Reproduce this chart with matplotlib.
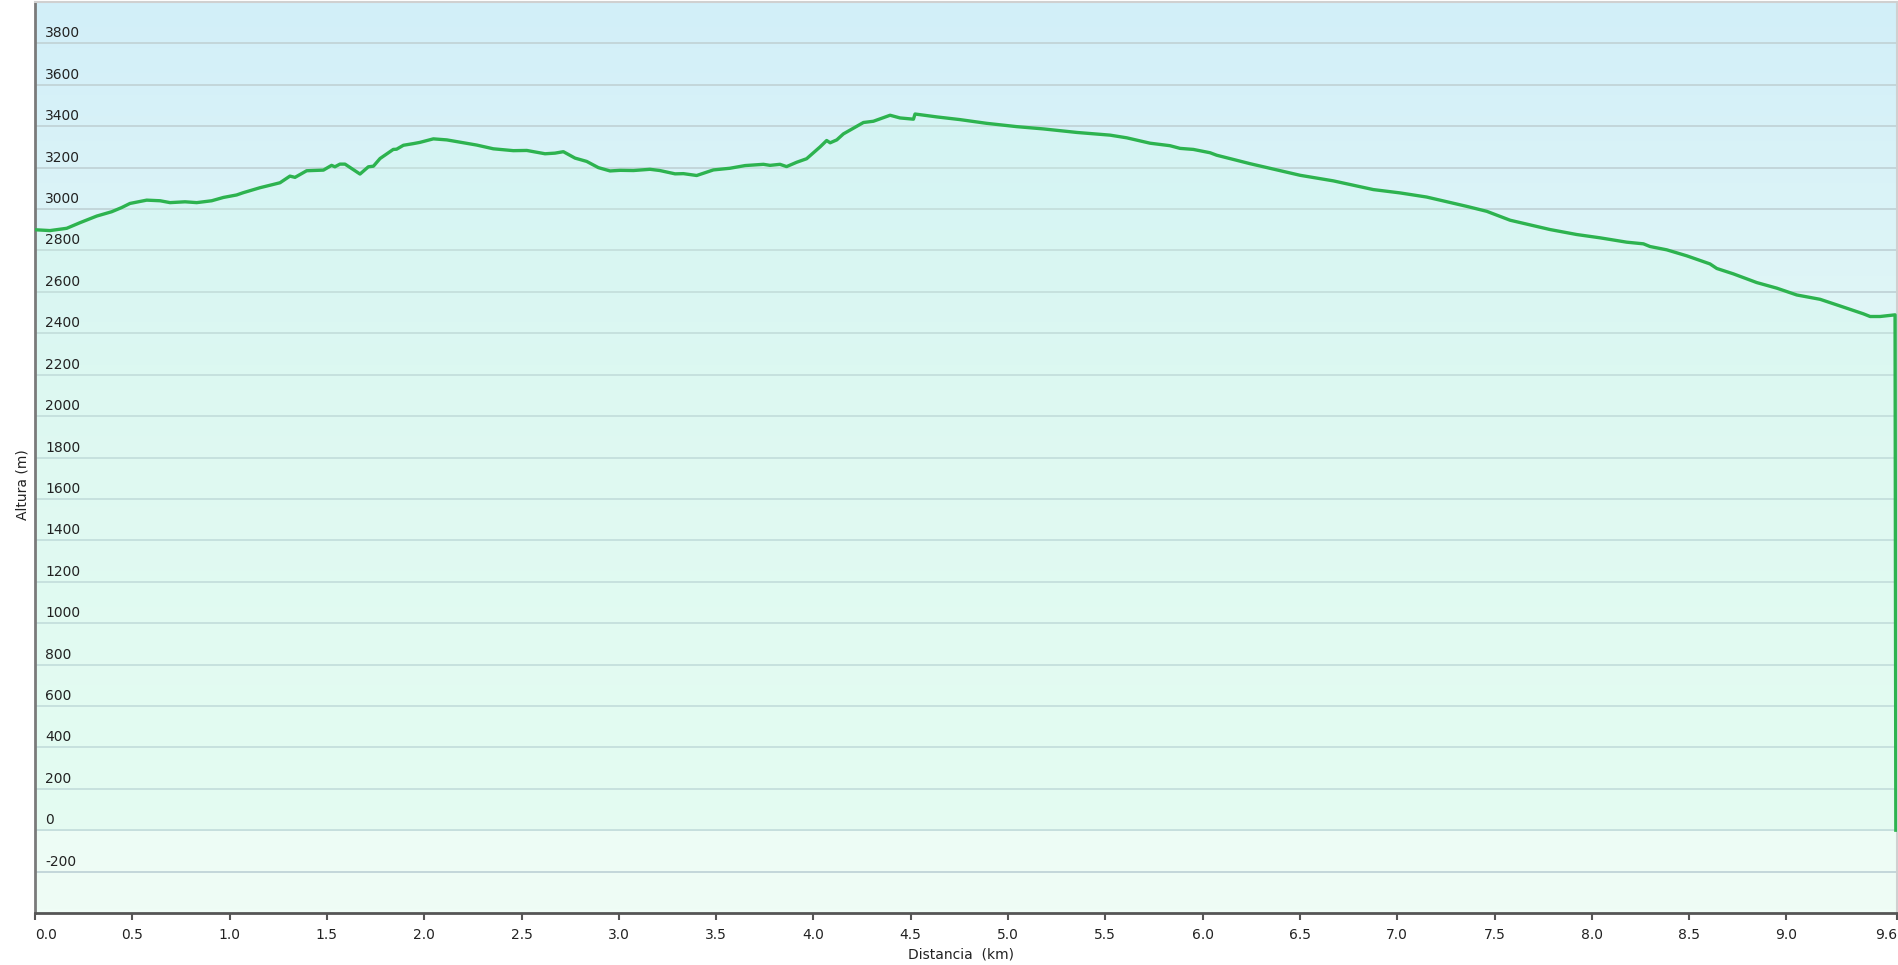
import numpy as np
import matplotlib
matplotlib.use("Agg")
import matplotlib.pyplot as plt
from matplotlib.colors import LinearSegmentedColormap

# ---- data (distance km, altitude m) ----
distance_km = [0.0, 0.077, 0.163, 0.231, 0.317, 0.394, 0.445, 0.488, 0.574, 0.643,
               0.694, 0.771, 0.831, 0.908, 0.968, 1.036, 1.07, 1.156, 1.225, 1.259,
               1.310, 1.336, 1.396, 1.482, 1.524, 1.541, 1.567, 1.593, 1.670, 1.713,
               1.739, 1.773, 1.841, 1.858, 1.893, 1.944, 1.978, 2.047, 2.116, 2.184,
               2.270, 2.355, 2.458, 2.527, 2.621, 2.672, 2.715, 2.775, 2.835, 2.895,
               2.955, 3.006, 3.075, 3.160, 3.211, 3.289, 3.332, 3.400, 3.486, 3.571,
               3.649, 3.743, 3.777, 3.828, 3.862, 3.914, 3.965, 4.034, 4.068, 4.086,
               4.120, 4.154, 4.257, 4.308, 4.394, 4.445, 4.514, 4.522, 4.634, 4.753,
               4.890, 5.045, 5.182, 5.353, 5.524, 5.610, 5.730, 5.832, 5.884, 5.952,
               6.038, 6.072, 6.244, 6.501, 6.672, 6.877, 7.014, 7.151, 7.357, 7.460,
               7.580, 7.785, 7.922, 8.042, 8.179, 8.265, 8.299, 8.385, 8.488, 8.607,
               8.642, 8.727, 8.847, 8.950, 9.053, 9.173, 9.275, 9.395, 9.430, 9.481,
               9.558, 9.562]
altitude_m = [2900, 2896, 2907, 2934, 2966, 2987, 3007, 3027, 3043, 3040,
              3031, 3035, 3031, 3040, 3056, 3068, 3079, 3103, 3119, 3127,
              3159, 3153, 3185, 3188, 3211, 3204, 3217, 3217, 3169, 3204,
              3207, 3244, 3288, 3289, 3308, 3316, 3322, 3339, 3334, 3323,
              3309, 3291, 3282, 3283, 3267, 3270, 3277, 3246, 3230, 3200,
              3184, 3187, 3186, 3192, 3186, 3170, 3171, 3162, 3189, 3197,
              3210, 3216, 3211, 3216, 3205, 3226, 3243, 3300, 3331, 3320,
              3334, 3363, 3418, 3424, 3453, 3440, 3434, 3459, 3445, 3432,
              3414, 3398, 3387, 3370, 3357, 3344, 3318, 3306, 3293, 3288,
              3272, 3260, 3219, 3163, 3136, 3094, 3078, 3058, 3013, 2989,
              2946, 2901, 2877, 2861, 2840, 2832, 2819, 2803, 2774, 2735,
              2713, 2687, 2645, 2618, 2585, 2564, 2532, 2494, 2481, 2481,
              2489, 0]

y_ticks = [-200, 0, 200, 400, 600, 800, 1000, 1200, 1400, 1600, 1800,
           2000, 2200, 2400, 2600, 2800, 3000, 3200, 3400, 3600, 3800]
x_ticks = [0.0, 0.5, 1.0, 1.5, 2.0, 2.5, 3.0, 3.5, 4.0, 4.5, 5.0, 5.5,
           6.0, 6.5, 7.0, 7.5, 8.0, 8.5, 9.0, 9.568]
x_tick_labels = ["0.0", "0.5", "1.0", "1.5", "2.0", "2.5", "3.0", "3.5", "4.0",
                 "4.5", "5.0", "5.5", "6.0", "6.5", "7.0", "7.5", "8.0", "8.5",
                 "9.0", "9.6"]
x_max = 9.568
y_min, y_max = -400, 4000

W, H = 1899, 965
fig = plt.figure(figsize=(W / 100, H / 100), dpi=100)
fig.patch.set_facecolor("white")
ax = fig.add_axes([35 / W, (H - 913) / H, (1897 - 35) / W, (913 - 2) / H])

# background gradient
cmap = LinearSegmentedColormap.from_list("bg", ["#effdf6", "#e6f9f5", "#d2eff9"])
grad = np.linspace(0, 1, 256).reshape(-1, 1)
ax.imshow(grad, aspect="auto", cmap=cmap, origin="lower",
          extent=[0, x_max, y_min, y_max], zorder=0)

for yt in y_ticks:
    ax.axhline(yt, color="#c3d6da", lw=1.4, zorder=1)

ax.fill_between(distance_km, altitude_m, 0, color="#d0fbea", alpha=0.3,
                lw=0, zorder=2)
ax.plot(distance_km, altitude_m, color="#2db34f", lw=2.4, zorder=3,
        solid_joinstyle="round")

ax.set_xlim(0, x_max)
ax.set_ylim(y_min, y_max)

# y labels inside plot
ax.set_yticks([])
for yt in y_ticks:
    ax.annotate(str(yt), xy=(0, yt), xycoords=ax.get_yaxis_transform(),
                xytext=(10, 3), textcoords="offset pixels",
                ha="left", va="bottom", fontsize=10, color="#222222",
                fontfamily="DejaVu Sans", zorder=4)

ax.set_xticks(x_ticks)
ax.set_xticklabels(x_tick_labels, fontsize=10, color="#222222")
labs = ax.get_xticklabels()
labs[0].set_ha("left")
labs[-1].set_ha("right")
ax.tick_params(axis="x", direction="out", length=5, width=1.5, color="#555555",
               pad=6)

for s in ["top", "right"]:
    ax.spines[s].set_color("#d0d0d0")
    ax.spines[s].set_linewidth(1.5)
ax.spines["left"].set_color("#7a7a7a")
ax.spines["left"].set_linewidth(2)
ax.spines["bottom"].set_color("#555555")
ax.spines["bottom"].set_linewidth(2)

fig.text(961 / W, 1 - 954 / H, "Distancia  (km)", ha="center", va="center",
         fontsize=10, color="#222222")
fig.text(23 / W, 1 - 485 / H, "Altura (m)", ha="center", va="center",
         rotation=90, fontsize=10, color="#222222")

fig.savefig("out.png", dpi=100)
